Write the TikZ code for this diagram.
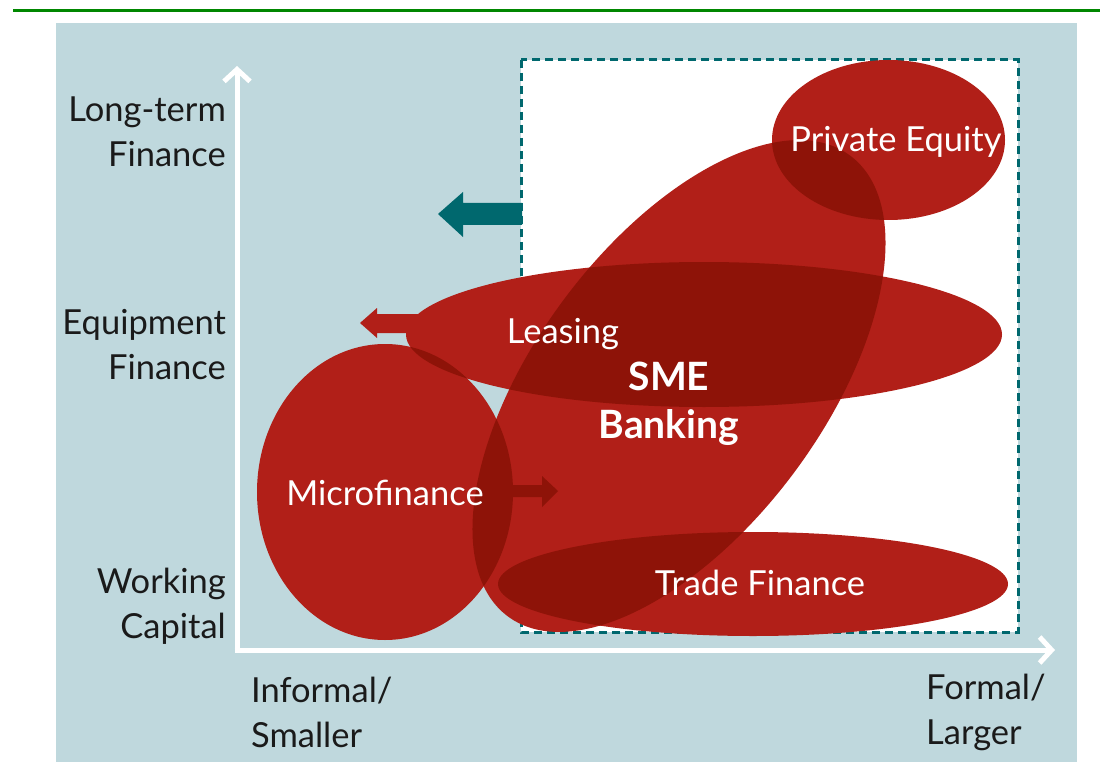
\documentclass[tikz,border=0pt]{standalone}
\usepackage{fontspec}
\setmainfont{Lato}
\usetikzlibrary{arrows.meta}
\definecolor{panelblue}{RGB}{191,216,221}
\definecolor{tealc}{RGB}{0,104,110}
\definecolor{redbase}{RGB}{177,31,24}
\definecolor{reddark}{RGB}{142,19,8}
\definecolor{topgreen}{RGB}{0,135,0}
\definecolor{labeltext}{RGB}{26,26,26}
\def\eMicro#1{#1 (385,-492) ellipse [x radius=128pt, y radius=148pt];}
\def\eSME#1{#1 [rotate around={53.4:(679,-386)}] (679,-386) ellipse [x radius=287pt, y radius=144pt];}
\def\eLease#1{#1 (704,-334.5) ellipse [x radius=298pt, y radius=72.5pt];}
\def\ePE#1{#1 (888.5,-140) ellipse [x radius=116.5pt, y radius=80pt];}
\def\eTrade#1{#1 (753,-584) ellipse [x radius=255pt, y radius=52pt];}
\tikzset{
  axislabel/.style={text=labeltext, font=\fontsize{34.5}{45}\selectfont, inner sep=0pt},
  bloblabel/.style={text=white, font=\fontsize{34.5}{45}\selectfont, inner sep=0pt},
  axisline/.style={draw=white, line width=5pt, -{Straight Barb[length=12pt, width=26pt, line width=5pt]}},
}
\begin{document}
\begin{tikzpicture}[x=1pt,y=1pt]
\useasboundingbox (0,0) rectangle (1100,-762);
\fill[white] (0,0) rectangle (1100,-762);
% top green rule
\fill[topgreen] (13,-9.5) rectangle (1100,-12.5);
% panel
\fill[panelblue] (56,-23) rectangle (1077,-762);
% dashed region
\fill[white] (521,-60) rectangle (1018,-632);
\draw[tealc, line width=3pt, dash pattern=on 8pt off 5pt] (521,-60) rectangle (1018,-632);
% teal arrow
\fill[tealc] (522,-203) -- (463,-203) -- (463,-192) -- (438,-214) -- (463,-237) -- (463,-225) -- (522,-225) -- cycle;
% axes
\coordinate (origin) at (237,-652.5);
\coordinate (ytip) at (237,-66);
\coordinate (xorigin) at (234.5,-650);
\coordinate (xtip) at (1055,-650);
\draw[axisline] (origin) -- (ytip);
\draw[axisline] (xorigin) -- (xtip);
% small red arrow (leasing)
\fill[redbase] (430,-314) -- (377,-314) -- (377,-308) -- (360,-323) -- (377,-338) -- (377,-333) -- (430,-333) -- cycle;
% ellipses
\eMicro{\fill[redbase]}
\eSME{\fill[redbase]}
\eLease{\fill[redbase]}
\ePE{\fill[redbase]}
\eTrade{\fill[redbase]}
% overlaps
\begin{scope}\eMicro{\clip}\eSME{\fill[reddark]}\end{scope}
\begin{scope}\eMicro{\clip}\eLease{\fill[reddark]}\end{scope}
\begin{scope}\eSME{\clip}\eLease{\fill[reddark]}\end{scope}
\begin{scope}\eSME{\clip}\ePE{\fill[reddark]}\end{scope}
\begin{scope}\eSME{\clip}\eTrade{\fill[reddark]}\end{scope}
% microfinance arrow
\fill[reddark] (500,-485) -- (542,-485) -- (542,-476) -- (558,-491) -- (542,-507) -- (542,-497) -- (500,-497) -- cycle;
% axis labels
\node[axislabel, align=right, anchor=east] (lt) at (226,-132) {Long-term\\Finance};
\node[axislabel, align=right, anchor=east] (eq) at (226,-345) {Equipment\\Finance};
\node[axislabel, align=right, anchor=east] (wc) at (226,-606) {Working\\Capital};
\node[axislabel, align=left, anchor=west] (inf) at (251,-712) {Informal/\\Smaller};
\node[axislabel, align=left, anchor=west] (form) at (926,-712) {Formal/\\Larger};
% blob labels
\node[bloblabel] (pe) at (896,-142) {Private Equity};
\node[bloblabel] (lease) at (563,-334) {Leasing};
\node[bloblabel, align=center, font=\fontsize{39}{48}\selectfont\bfseries] (sme) at (669,-404) {SME\\Banking};
\node[bloblabel] (micro) at (385,-493) {Microfinance};
\node[bloblabel] (trade) at (760,-583) {Trade Finance};
\end{tikzpicture}
\end{document}
